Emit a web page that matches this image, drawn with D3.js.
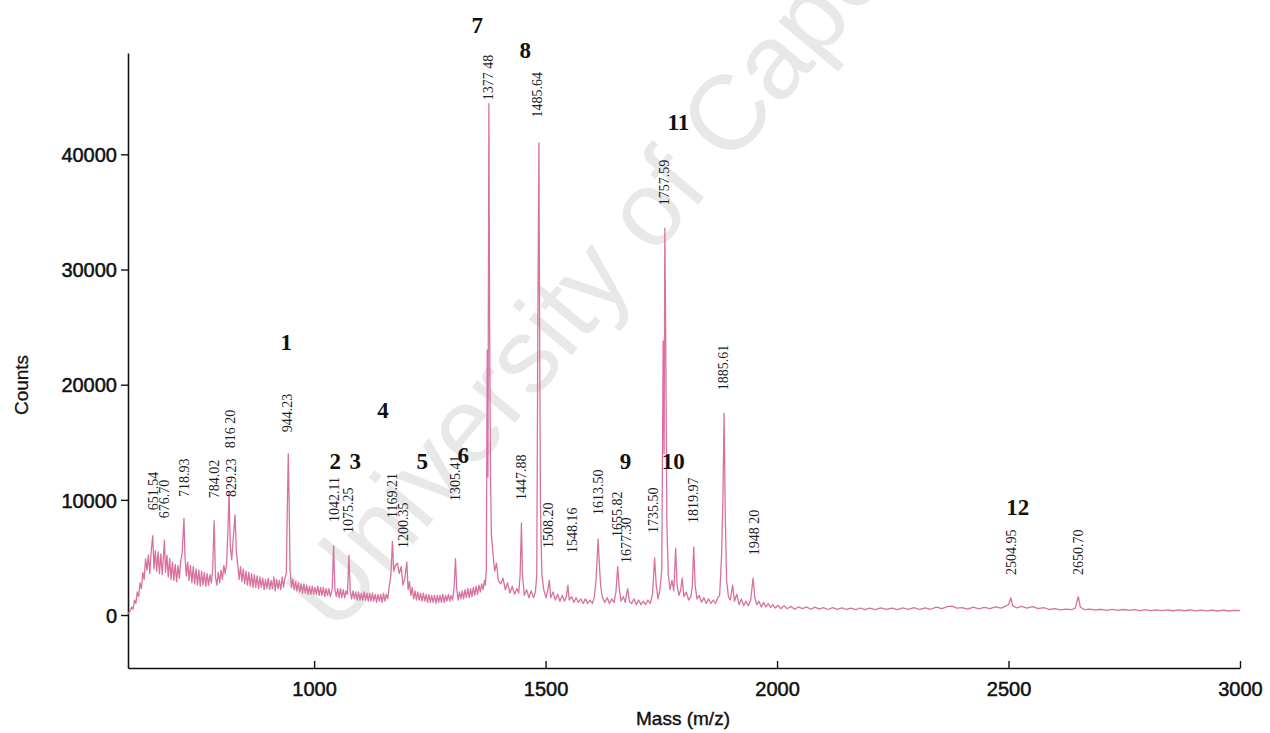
<!DOCTYPE html>
<html>
<head>
<meta charset="utf-8">
<script src="https://cdn.jsdelivr.net/npm/d3@7"></script>
<style>
  html, body { margin: 0; padding: 0; background: #fff; }
  svg { display: block; }
</style>
</head>
<body>
<svg id="chart" width="1270" height="733"></svg>
<script>
// spectrum: [mass (m/z), counts]
const spectrum = [
  [598, 100], [602, 300], [606, 700], [609, 500], [612, 1300], [615, 1000], [618, 2000], [621, 1600],
  [624, 2800], [627, 2300], [630, 3700], [633, 3100], [636, 4900], [639, 3900], [642, 5200], [645, 3600],
  [648, 5500], [651.5, 6900], [654, 4000], [657, 5600], [660, 3800], [663, 5500], [666, 3600], [669, 5300],
  [672, 3500], [676.7, 6500], [679, 3700], [682, 5200], [685, 3300], [688, 4900], [691, 3100], [694, 4600],
  [697, 3000], [700, 4400], [703, 2900], [706, 4300], [709, 3200], [712, 4700], [715, 5400], [718.9, 8400],
  [721, 5200], [724, 3400], [727, 4600], [730, 3000], [733, 4300], [736, 2800], [739, 4200], [742, 2700],
  [745, 4000], [748, 2600], [751, 3900], [754, 2500], [757, 3800], [760, 2600], [763, 3700], [766, 2500],
  [769, 3600], [772, 2600], [775, 3500], [778, 2800], [781, 4000], [784, 8200], [787, 3300], [790, 2600],
  [793, 3700], [796, 2800], [799, 3900], [802, 3100], [805, 4300], [808, 3600], [811, 4500], [814, 7500],
  [816.2, 10700], [819, 6000], [822, 4800], [826, 7000], [829.2, 8700], [832, 5500], [835, 4400], [838, 3100],
  [841, 4200], [844, 2900], [847, 4000], [850, 2700], [853, 3800], [856, 2600], [859, 3700], [862, 2500],
  [865, 3600], [868, 2400], [871, 3500], [874, 2400], [877, 3400], [880, 2300], [883, 3300], [886, 2400],
  [889, 3200], [892, 2200], [895, 3100], [898, 2300], [901, 3200], [904, 2200], [907, 3000], [910, 2300],
  [913, 3300], [916, 2100], [919, 3100], [922, 2300], [925, 3000], [928, 2200], [931, 3300], [934, 2400],
  [937, 3200], [940, 3600], [942, 9000], [944.2, 14000], [946, 10000], [948, 4000], [951, 2400], [954, 3100],
  [957, 2200], [960, 2900], [963, 2100], [966, 2800], [969, 2000], [972, 2700], [975, 1900], [978, 2700],
  [981, 1900], [984, 2600], [987, 1800], [990, 2500], [993, 1800], [996, 2500], [999, 1800], [1002, 2400],
  [1005, 1800], [1008, 2500], [1011, 1700], [1014, 2400], [1017, 1700], [1020, 2400], [1023, 1600], [1026, 2300],
  [1029, 1700], [1032, 2300], [1035, 1600], [1039, 2200], [1042.1, 6000], [1045, 2200], [1048, 1600], [1051, 2300],
  [1054, 1500], [1057, 2300], [1060, 1500], [1063, 2200], [1066, 1500], [1069, 2100], [1072, 1800], [1075.2, 5200],
  [1078, 2100], [1081, 1400], [1084, 2100], [1087, 1400], [1090, 2000], [1093, 1300], [1096, 2000], [1099, 1300],
  [1102, 1900], [1105, 1300], [1108, 2000], [1111, 1300], [1114, 1900], [1117, 1200], [1120, 1900], [1123, 1200],
  [1126, 1900], [1129, 1200], [1132, 1800], [1135, 1100], [1138, 1800], [1141, 1200], [1144, 1800], [1147, 1100],
  [1150, 1900], [1153, 1200], [1156, 1800], [1159, 1400], [1162, 2400], [1166, 3500], [1169.2, 6400], [1172, 3800],
  [1176, 4300], [1180, 4500], [1184, 3600], [1188, 4200], [1192, 2600], [1196, 3200], [1200.3, 4600], [1203, 2200],
  [1206, 2900], [1209, 1700], [1212, 2400], [1215, 1400], [1218, 2100], [1221, 1300], [1224, 2000], [1227, 1300],
  [1230, 1900], [1233, 1200], [1236, 1900], [1239, 1200], [1242, 1800], [1245, 1100], [1248, 1800], [1251, 1100],
  [1254, 1700], [1257, 1100], [1260, 1700], [1263, 1000], [1266, 1700], [1269, 1100], [1272, 1700], [1275, 1100],
  [1278, 1800], [1281, 1100], [1284, 1700], [1287, 1200], [1290, 1800], [1293, 1200], [1296, 1700], [1299, 1300],
  [1302, 2200], [1305.4, 4900], [1308, 2300], [1311, 1300], [1314, 2000], [1317, 1400], [1320, 2100], [1323, 1400],
  [1326, 2200], [1329, 1500], [1332, 2300], [1335, 1500], [1338, 2300], [1341, 1600], [1344, 2400], [1347, 1700],
  [1350, 2500], [1353, 1800], [1356, 2600], [1359, 2000], [1362, 2700], [1365, 2200], [1368, 3000], [1370, 2600],
  [1372, 4000], [1374, 23000], [1375.5, 12000], [1377.5, 44400], [1379, 26000], [1381, 12000], [1383, 7000], [1386, 5500],
  [1390, 3800], [1394, 4500], [1398, 3000], [1403, 2700], [1408, 3200], [1413, 2200], [1418, 2800], [1423, 1900],
  [1428, 2500], [1433, 1800], [1438, 2300], [1442, 1900], [1445, 3500], [1447.9, 8000], [1450, 3500], [1454, 1700],
  [1459, 2200], [1464, 1500], [1469, 2100], [1474, 1500], [1478, 2000], [1481, 3500], [1483.5, 26800], [1485.6, 41000],
  [1487, 26000], [1489, 9000], [1492, 3500], [1496, 2200], [1501, 1500], [1505, 2200], [1508.2, 3000], [1511, 1500],
  [1516, 2000], [1521, 1300], [1526, 1800], [1531, 1200], [1536, 1700], [1541, 1200], [1545, 1600], [1548.2, 2600],
  [1551, 1300], [1556, 1600], [1561, 1100], [1566, 1500], [1571, 1100], [1576, 1400], [1581, 1000], [1586, 1400],
  [1591, 1000], [1596, 1300], [1601, 1000], [1605, 1500], [1609, 3000], [1613.5, 6600], [1616, 4500], [1619, 2500],
  [1623, 1500], [1628, 1100], [1633, 1500], [1638, 1000], [1643, 1400], [1648, 1100], [1652, 2000], [1655.8, 4200],
  [1659, 2400], [1663, 1200], [1668, 1600], [1672, 1100], [1677.3, 2300], [1681, 1200], [1686, 1000], [1691, 1400],
  [1696, 900], [1701, 1300], [1706, 900], [1711, 1200], [1716, 900], [1721, 1300], [1726, 1000], [1731, 1800],
  [1735.5, 4950], [1739, 2600], [1743, 1400], [1747, 2200], [1751, 4000], [1754, 23800], [1756, 14000], [1757.6, 33600],
  [1759.5, 24000], [1762, 8000], [1765, 3500], [1769, 2200], [1773, 3000], [1777, 2100], [1781, 5800], [1784, 2600],
  [1788, 1700], [1792, 2200], [1795, 3200], [1799, 1600], [1804, 2000], [1809, 1300], [1814, 1600], [1817, 2500],
  [1820, 5900], [1823, 2600], [1827, 1400], [1832, 1700], [1837, 1100], [1842, 1500], [1847, 1000], [1852, 1400],
  [1857, 1000], [1862, 1300], [1867, 1000], [1872, 1500], [1876, 1700], [1880, 5000], [1883, 10000], [1885.6, 17500],
  [1888, 9000], [1891, 3000], [1895, 1600], [1899, 1300], [1904, 2600], [1908, 1200], [1913, 1800], [1918, 900],
  [1923, 1400], [1928, 800], [1933, 1200], [1938, 800], [1943, 1300], [1948.2, 3200], [1952, 1500], [1956, 900],
  [1961, 1200], [1966, 700], [1971, 1100], [1976, 700], [1981, 1000], [1986, 650], [1991, 900], [1996, 600],
  [2002, 850], [2008, 550], [2015, 800], [2022, 550], [2030, 750], [2038, 500], [2046, 700], [2055, 550],
  [2064, 700], [2073, 500], [2082, 680], [2091, 520], [2100, 650], [2110, 480], [2120, 640], [2130, 500],
  [2140, 620], [2150, 480], [2160, 600], [2170, 470], [2180, 610], [2190, 460], [2200, 600], [2212, 470],
  [2224, 620], [2236, 480], [2248, 600], [2260, 460], [2272, 620], [2284, 500], [2296, 640], [2308, 480],
  [2320, 620], [2332, 500], [2344, 680], [2356, 560], [2368, 720], [2378, 780], [2388, 600], [2400, 650],
  [2412, 520], [2424, 680], [2436, 540], [2448, 660], [2460, 560], [2472, 700], [2484, 600], [2494, 780],
  [2500, 900], [2505, 1500], [2509, 800], [2518, 620], [2528, 760], [2540, 600], [2552, 720], [2564, 560],
  [2576, 640], [2588, 480], [2600, 560], [2612, 440], [2624, 520], [2636, 460], [2644, 600], [2650.7, 1600],
  [2655, 700], [2664, 460], [2676, 520], [2688, 420], [2700, 500], [2712, 410], [2724, 490], [2736, 400],
  [2748, 480], [2760, 400], [2772, 470], [2784, 390], [2796, 460], [2808, 380], [2820, 450], [2832, 380],
  [2844, 450], [2856, 370], [2868, 440], [2880, 370], [2892, 440], [2904, 360], [2916, 430], [2928, 360],
  [2940, 430], [2952, 350], [2964, 420], [2976, 350], [2988, 410], [3000, 380]
];

const xTicks = [1000, 1500, 2000, 2500, 3000];
const yTicks = [0, 10000, 20000, 30000, 40000];

// peak mass labels: text, mass, counts where the rotated label ends
const peakLabels = [
  ["651.54", 651.5, 9100], ["676.70", 676.7, 8400], ["718.93", 718.9, 10240], ["784.02", 784.0, 10150],
  ["816 20", 818.5, 14490], ["829.23", 821.5, 10240], ["944.23", 942.5, 15880], ["1042.11", 1042.1, 8070],
  ["1075.25", 1073.5, 7115], ["1169.21", 1169.2, 8420], ["1200.35", 1193, 5810], ["1305.41", 1304.5, 9900],
  ["1377 48", 1375.5, 44690], ["1447.88", 1446.5, 9980], ["1485.64", 1482.5, 43210], ["1508.20", 1505, 5810],
  ["1548.16", 1557, 5380], ["1613.50", 1613.5, 8680], ["1655.82", 1654.5, 6770], ["1677.30", 1674, 4510],
  ["1735.50", 1733, 7115], ["1757.59", 1755, 35575], ["1819.97", 1819.5, 7980], ["1885.61", 1883, 19520],
  ["1948 20", 1950, 5200], ["2504.95", 2506, 3470], ["2650.70", 2650.7, 3470]
];

// bold peak numbers: text, mass (centre), counts (baseline)
const peakNumbers = [
  ["1", 939.6, 22990], ["2", 1045.6, 12670], ["3", 1088.8, 12670], ["4", 1149, 17090],
  ["5", 1233.7, 12670], ["6", 1322, 13200], ["7", 1352.6, 50500], ["8", 1456, 48330],
  ["9", 1672.6, 12670], ["10", 1776, 12670], ["11", 1787, 42080], ["12", 2520, 8680]
];

const svg = d3.select("#chart");
const lineColor = "#d9719f";
const sans = "'Liberation Sans', Arial, sans-serif";
const serif = "'Liberation Serif', 'Times New Roman', serif";

const x = d3.scaleLinear().domain([598, 3000]).range([128, 1240]);
const y = d3.scaleLinear().domain([-4600, 48800]).range([668, 53]);

// watermark behind everything
svg.append("text")
  .attr("transform", "translate(336,636) rotate(-50)")
  .attr("font-family", sans)
  .attr("font-size", 106)
  .attr("fill", "#e8e8e8")
  .text("University of Cape Town");

const yAxis = svg.append("g")
  .attr("transform", `translate(${x.range()[0]},0)`)
  .call(d3.axisLeft(y).tickValues(yTicks).tickSize(7).tickSizeOuter(0).tickPadding(4).tickFormat(d3.format("d")));

const xAxis = svg.append("g")
  .attr("transform", `translate(0,${y.range()[0]})`)
  .call(d3.axisBottom(x).tickValues(xTicks).tickSize(7).tickSizeOuter(0).tickPadding(7).tickFormat(d3.format("d")));

for (const axis of [xAxis, yAxis]) {
  axis.select(".domain").attr("stroke", "#111").attr("stroke-width", 1.6);
  axis.selectAll(".tick line").attr("stroke", "#111").attr("stroke-width", 1.4);
  axis.selectAll(".tick text")
    .attr("font-family", sans)
    .attr("font-size", 20)
    .attr("fill", "#111")
    .attr("stroke", "#111")
    .attr("stroke-width", 0.5);
}
xAxis.selectAll(".tick line").attr("y1", -7).attr("y2", 0);
yAxis.selectAll(".tick text").attr("dy", "0.36em");

svg.append("text")
  .attr("transform", "translate(28,385) rotate(-90)")
  .attr("text-anchor", "middle")
  .attr("font-family", sans)
  .attr("font-size", 19)
  .attr("fill", "#111")
  .attr("stroke", "#111")
  .attr("stroke-width", 0.3)
  .text("Counts");

svg.append("text")
  .attr("x", 683)
  .attr("y", 725)
  .attr("text-anchor", "middle")
  .attr("font-family", sans)
  .attr("font-size", 19)
  .attr("fill", "#111")
  .attr("stroke", "#111")
  .attr("stroke-width", 0.4)
  .text("Mass (m/z)");

const line = d3.line()
  .x((d) => x(d[0]))
  .y((d) => y(d[1]));

svg.append("path")
  .datum(spectrum)
  .attr("fill", "none")
  .attr("stroke", lineColor)
  .attr("stroke-width", 1.3)
  .attr("stroke-linejoin", "round")
  .attr("d", line);

svg.append("g")
  .selectAll("text")
  .data(peakLabels)
  .join("text")
  .attr("transform", (d) => `translate(${x(d[1])},${y(d[2])}) rotate(-90)`)
  .attr("dy", "0.35em")
  .attr("font-family", serif)
  .attr("font-size", 14)
  .attr("fill", "#1c1c28")
  .text((d) => d[0]);

svg.append("g")
  .selectAll("text")
  .data(peakNumbers)
  .join("text")
  .attr("x", (d) => x(d[1]))
  .attr("y", (d) => y(d[2]))
  .attr("text-anchor", "middle")
  .attr("font-family", serif)
  .attr("font-weight", "bold")
  .attr("font-size", 23)
  .attr("fill", "#111")
  .text((d) => d[0]);
</script>
</body>
</html>
